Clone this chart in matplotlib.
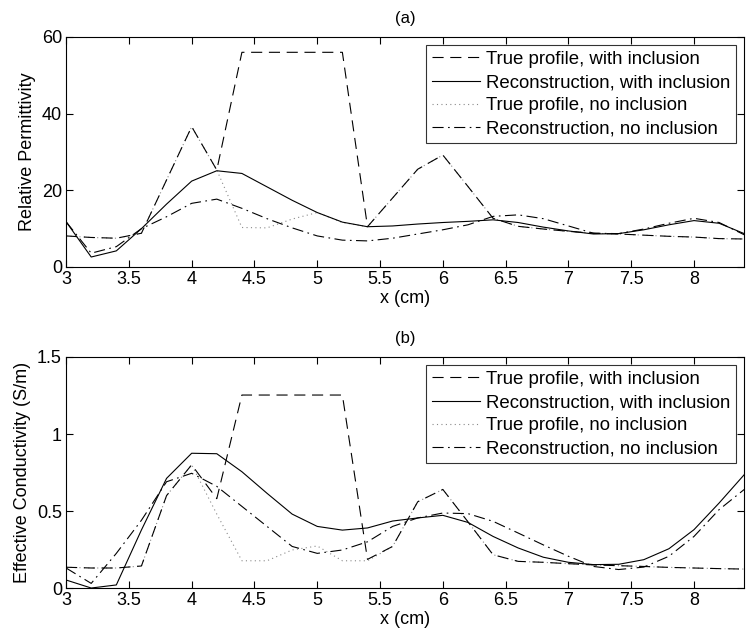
import numpy as np
import matplotlib
matplotlib.use("Agg")
import matplotlib.pyplot as plt

plt.rcParams['font.family'] = ['Liberation Sans', 'DejaVu Sans']

x = [3.0, 3.2, 3.4, 3.6, 3.8, 4.0, 4.2, 4.4, 4.6, 4.8, 5.0, 5.2, 5.4, 5.6,
     5.8, 6.0, 6.2, 6.4, 6.6, 6.8, 7.0, 7.2, 7.4, 7.6, 7.8, 8.0, 8.2, 8.4]

# (a) relative permittivity
eps_true_incl = [8.1, 7.7, 7.5, 8.8, 22.7, 36.6, 25.3, 56.0, 56.0, 56.0, 56.0, 56.0, 10.5, 18.0,
                 25.5, 29.2, 21.0, 12.7, 10.6, 9.9, 9.3, 8.8, 8.6, 8.3, 8.0, 7.8, 7.4, 7.3]
eps_rec_incl = [11.8, 2.6, 4.2, 10.0, 16.4, 22.4, 25.1, 24.4, 20.9, 17.4, 14.2, 11.7, 10.5, 10.7,
                11.2, 11.6, 11.9, 12.3, 11.6, 10.4, 9.4, 8.6, 8.7, 9.7, 11.0, 12.1, 11.4, 8.7]
eps_true_noincl = [8.1, 7.7, 7.5, 8.8, 22.7, 36.6, 25.3, 10.3, 10.2, 12.5, 14.2, 11.6, 10.5, 18.0,
                   25.5, 29.2, 21.0, 12.7, 10.6, 9.9, 9.3, 8.8, 8.6, 8.3, 8.0, 7.8, 7.4, 7.3]
eps_rec_noincl = [11.8, 3.6, 5.3, 10.0, 13.1, 16.6, 17.7, 15.3, 12.6, 10.2, 8.1, 7.0, 6.8, 7.5,
                  8.6, 9.7, 11.0, 13.2, 13.6, 12.6, 10.7, 8.8, 8.7, 9.9, 11.4, 12.7, 11.6, 8.4]

# (b) effective conductivity
sig_true_incl = [0.135, 0.13, 0.13, 0.143, 0.60, 0.80, 0.58, 1.253, 1.253, 1.253, 1.253, 1.253, 0.186, 0.27,
                 0.56, 0.64, 0.43, 0.216, 0.173, 0.167, 0.158, 0.15, 0.145, 0.14, 0.134, 0.13, 0.126, 0.123]
sig_rec_incl = [0.052, 0.0, 0.02, 0.377, 0.712, 0.875, 0.872, 0.755, 0.615, 0.48, 0.40, 0.376, 0.39, 0.435,
                0.455, 0.472, 0.426, 0.335, 0.26, 0.20, 0.167, 0.152, 0.154, 0.184, 0.255, 0.379, 0.552, 0.736]
sig_true_noincl = [0.135, 0.13, 0.13, 0.143, 0.60, 0.80, 0.48, 0.177, 0.177, 0.247, 0.273, 0.177, 0.177, 0.27,
                   0.56, 0.64, 0.43, 0.216, 0.173, 0.167, 0.158, 0.15, 0.145, 0.14, 0.134, 0.13, 0.126, 0.123]
sig_rec_noincl = [0.13, 0.03, 0.225, 0.44, 0.69, 0.745, 0.66, 0.53, 0.40, 0.27, 0.225, 0.247, 0.30, 0.40,
                  0.455, 0.487, 0.483, 0.433, 0.357, 0.28, 0.206, 0.14, 0.12, 0.136, 0.206, 0.335, 0.509, 0.64]

labels = ["True profile, with inclusion", "Reconstruction, with inclusion",
          "True profile, no inclusion", "Reconstruction, no inclusion"]

fig = plt.figure(figsize=(7.51, 6.43), dpi=100)
ax1 = fig.add_axes([0.088, 0.5848, 0.903, 0.3577])
ax2 = fig.add_axes([0.088, 0.0855, 0.903, 0.3593])

styles = [dict(ls=(0, (10, 6)), lw=0.8, color='black', zorder=3),
          dict(ls='-', lw=0.8, color='black', zorder=3),
          dict(ls=(0, (1, 3)), lw=0.8, color='#8a8a8a', zorder=2),
          dict(ls=(0, (10, 4, 1.5, 4)), lw=0.8, color='black', zorder=3)]

def draw(ax, series, ylim, yticks, ylabel, title):
    for s, st, lab in zip(series, styles, labels):
        ax.plot(x, s, label=lab, **st)
    ax.set_xlim(3, 8.4)
    ax.set_ylim(*ylim)
    ax.set_xticks([3, 3.5, 4, 4.5, 5, 5.5, 6, 6.5, 7, 7.5, 8])
    ax.set_xticklabels(['3', '3.5', '4', '4.5', '5', '5.5', '6', '6.5', '7', '7.5', '8'])
    ax.set_yticks(yticks)
    ax.set_yticklabels([('%g' % v) for v in yticks])
    ax.tick_params(direction='in', top=True, right=True, length=5, width=0.8,
                   labelsize=13, pad=3)
    for sp in ax.spines.values():
        sp.set_linewidth(0.8)
    ax.set_xlabel('x (cm)', fontsize=13, labelpad=1)
    ax.set_ylabel(ylabel, fontsize=13, labelpad=4)
    ax.set_title(title, fontsize=12, pad=10)
    leg = ax.legend(loc='upper right', fontsize=13.4, frameon=True, fancybox=False,
                    edgecolor='black', handlelength=2.6, handletextpad=0.3,
                    labelspacing=0.33, borderpad=0.3, borderaxespad=0.45)
    leg.get_frame().set_linewidth(0.8)

draw(ax1, [eps_true_incl, eps_rec_incl, eps_true_noincl, eps_rec_noincl],
     (0, 60), [0, 20, 40, 60], 'Relative Permittivity', '(a)')
draw(ax2, [sig_true_incl, sig_rec_incl, sig_true_noincl, sig_rec_noincl],
     (0, 1.5), [0, 0.5, 1, 1.5], 'Effective Conductivity (S/m)', '(b)')

fig.savefig('out.png', dpi=100)
